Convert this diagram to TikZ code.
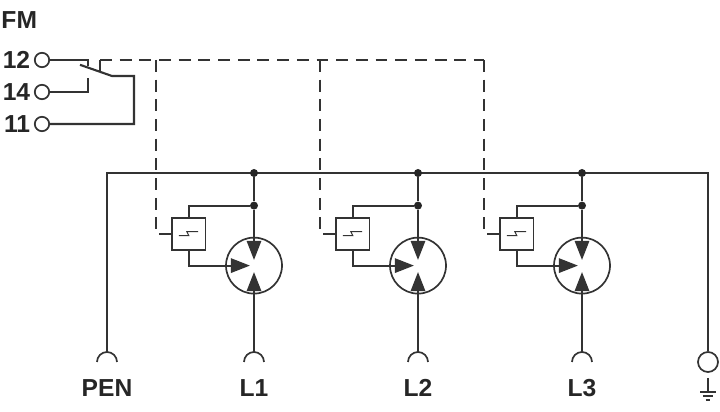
\documentclass[tikz,border=0pt]{standalone}
\usepackage{fontspec}
\setmainfont{Liberation Sans}
\usetikzlibrary{arrows.meta}
\definecolor{wire}{gray}{0.2}
\tikzset{
  wireline/.style={draw=wire,line width=1.5pt},
  dashline/.style={draw=wire,line width=1.3pt,dash pattern=on 8.5pt off 5.5pt},
  terminal/.style={circle,draw=wire,line width=1.2pt,minimum size=0.36cm,inner sep=0pt},
  joint/.style={circle,fill=black!85,minimum size=0.2cm,inner sep=0pt},
  label/.style={font=\bfseries\fontsize{17.5}{18}\selectfont,text=black!85,inner sep=0pt},
  tip/.style={-{Triangle[length=0.48cm,width=0.36cm]}},
}
\begin{document}
\begin{tikzpicture}
\useasboundingbox (0,0) rectangle (18,10.3);

% contact
\node[label,anchor=west] (fm) at (0.03,9.8) {FM};
\node[terminal] (t12) at (1.05,8.8) {};
\node[terminal] (t14) at (1.05,8.0) {};
\node[terminal] (t11) at (1.05,7.2) {};
\node[label,anchor=east] (l12) at (0.76,8.8) {12};
\node[label,anchor=east] (l14) at (0.76,8.0) {14};
\node[label,anchor=east] (l11) at (0.76,7.2) {11};
\coordinate (c12) at (2.2,8.65);
\coordinate (c14) at (2.2,8.35);
\coordinate (bladeA) at (2.0,8.68);
\coordinate (bladeB) at (2.8,8.4);
\coordinate (bladeC) at (3.35,8.4);
\coordinate (tick) at (2.5,8.8);
\coordinate (tickB) at (2.5,8.52);
\draw[wireline] (t12) -| (c12);
\draw[wireline] (t14) -| (c14);
\draw[wireline] (t11) -| (bladeC) -- (bladeB) -- (bladeA);
\draw[wireline,line width=1.2pt] (tick) -- (tickB);

% bus
\coordinate (busA) at (2.675,5.975);
\coordinate (busB) at (17.7,5.975);
\node[terminal,minimum size=0.5cm] (pe) at (17.7,1.25) {};
\draw[wireline] (2.675,1.5) -- (busA) -- (busB) -- (pe);
\draw[wireline,line width=1.2pt] (2.425,1.25) arc (180:0:0.25);
\node[label] (pen) at (2.675,0.6) {PEN};

% ground
\coordinate (gndA) at (17.7,0.85);
\coordinate (gndB) at (17.7,0.5);
\draw[wire,line width=1pt] (gndA) -- (gndB);
\draw[wire,line width=1pt] (17.5,0.5) -- (17.9,0.5);
\draw[wire,line width=1pt] (17.57,0.4) -- (17.83,0.4);
\draw[wire,line width=1pt] (17.64,0.3) -- (17.76,0.3);

% dashed top
\coordinate (dashA) at (2.5,8.8);
\coordinate (dashB) at (12.1,8.8);
\draw[dashline] (dashA) -- (dashB);

\foreach \i/\x in {1/6.35,2/10.45,3/14.55} {
  \node[joint] (top\i) at (\x,5.975) {};
  \node[joint] (mid\i) at (\x,5.16) {};
  \node[circle,draw=wire,line width=1.2pt,minimum size=1.4cm,inner sep=0pt] (mov\i) at (\x,3.66) {};
  \node[draw=wire,line width=1.2pt,minimum width=0.84cm,minimum height=0.81cm,inner sep=0pt] (box\i) at (\x-1.63,4.45) {};
  \coordinate (tipT\i) at (\x,3.8);
  \coordinate (tipB\i) at (\x,3.5);
  \coordinate (tipL\i) at (\x-0.1,3.66);
  \coordinate (end\i) at (\x,1.5);
  \coordinate (dashT\i) at (\x-2.45,8.8);
  \coordinate (dashC\i) at (\x-2.45,4.45);
  \draw[wireline] (top\i) -- (mid\i);
  \draw[wireline,tip] (mid\i) -- (tipT\i);
  \draw[wireline,tip] (end\i) -- (tipB\i);
  \draw[wireline,tip] (box\i.south) |- (tipL\i);
  \draw[wireline] (box\i.north) |- (mid\i);
  \draw[dashline] (dashT\i) -- (dashC\i) -- (box\i.west);
  \draw[wire,line width=0.7pt] (box\i.center) ++(-0.25,-0.04) -- ++(0.25,0) -- ++(-0.05,0.1) -- ++(0.28,0);
  \draw[wireline,line width=1.2pt] (\x-0.25,1.25) arc (180:0:0.25);
  \node[label] (name\i) at (\x,0.6) {L\i};
}
\end{tikzpicture}
\end{document}
